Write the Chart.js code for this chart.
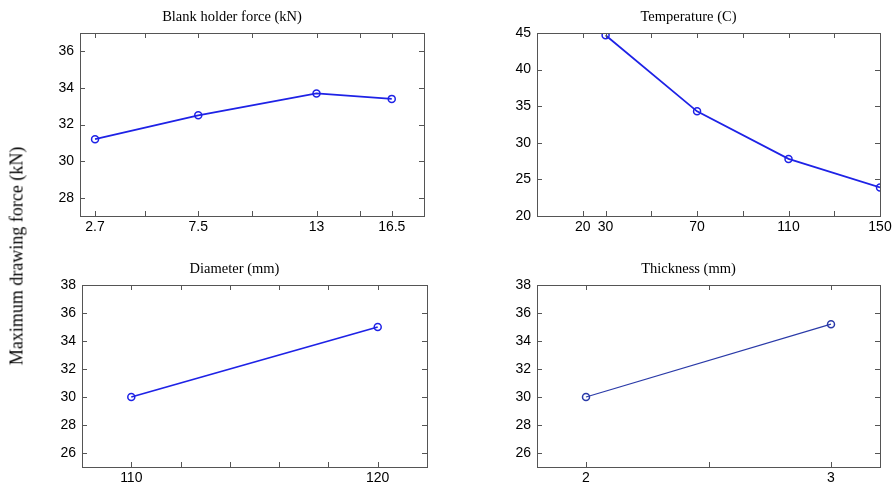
<!DOCTYPE html>
<html>
<head>
<meta charset="utf-8">
<script src="https://cdn.jsdelivr.net/npm/chart.js@4.4.0/dist/chart.umd.min.js"></script>
<style>
    body { margin: 0; background: #fff; }
    #page { position: relative; width: 896px; height: 488px; overflow: hidden; }
    canvas { position: absolute; }
    #ylabel {
        position: absolute; left: 17px; top: 256px;
        transform: translate(-50%, -50%) rotate(-90deg);
        font: 18px "Liberation Serif", serif; white-space: nowrap; color: #000;
    }
</style>
</head>
<body>
<div id="page">
    <canvas id="c1" style="left:0;top:0" width="448" height="244"></canvas>
    <canvas id="c2" style="left:448px;top:0" width="448" height="244"></canvas>
    <canvas id="c3" style="left:0;top:252px" width="448" height="236"></canvas>
    <canvas id="c4" style="left:448px;top:252px" width="448" height="236"></canvas>
    <div id="ylabel">Maximum drawing force (kN)</div>
</div>
<script>
// Blank holder force
const bhfValues = [2.7, 7.5, 13, 16.5];
const bhfForce = [31.2, 32.5, 33.7, 33.4];
const bhfTicks = [2.7, 5, 7.5, 10, 13, 15, 16.5];
const bhfYTicks = [28, 30, 32, 34, 36];

// Temperature
const tempValues = [30, 70, 110, 150];
const tempForce = [44.7, 34.3, 27.8, 23.9];
const tempTicks = [20, 30, 50, 70, 90, 110, 130, 150];
const tempTickLabels = [20, 30, 70, 110, 150];
const tempYTicks = [20, 25, 30, 35, 40, 45];

// Diameter
const diaValues = [110, 120];
const diaForce = [30, 35];
const diaTicks = [110, 112, 114, 116, 118, 120];
const diaTickLabels = [110, 120];

// Thickness
const thkValues = [2, 3];
const thkForce = [30, 35.2];
const thkTicks = [2, 2.5, 3];
const thkTickLabels = [2, 3];

const bottomYTicks = [26, 28, 30, 32, 34, 36, 38];

// inward tick marks on all four sides, matlab style
const innerTicks = {
    id: 'innerTicks',
    afterDraw(chart) {
        const { ctx, chartArea: a, scales } = chart;
        const len = 5;
        ctx.save();
        ctx.strokeStyle = '#555';
        ctx.lineWidth = 1;
        ctx.beginPath();
        scales.x.ticks.forEach(t => {
            const px = Math.round(scales.x.getPixelForValue(t.value)) + 0.5;
            ctx.moveTo(px, a.bottom); ctx.lineTo(px, a.bottom - len);
            ctx.moveTo(px, a.top); ctx.lineTo(px, a.top + len);
        });
        scales.y.ticks.forEach(t => {
            const py = Math.round(scales.y.getPixelForValue(t.value)) + 0.5;
            ctx.moveTo(a.left, py); ctx.lineTo(a.left + len, py);
            ctx.moveTo(a.right, py); ctx.lineTo(a.right - len, py);
        });
        ctx.stroke();
        ctx.strokeRect(Math.round(a.left) + 0.5, Math.round(a.top) + 0.5,
            Math.round(a.right - a.left), Math.round(a.bottom - a.top));
        ctx.restore();
    }
};

function makeChart(id, cfg) {
    const points = cfg.xs.map((x, i) => ({ x: x, y: cfg.ys[i] }));
    return new Chart(document.getElementById(id), {
        type: 'line',
        data: {
            datasets: [{
                data: points,
                borderColor: cfg.color,
                borderWidth: cfg.width,
                pointStyle: 'circle',
                pointRadius: 3.5,
                pointBorderWidth: 1.5,
                pointBackgroundColor: 'rgba(0,0,0,0)',
                pointBorderColor: cfg.color,
                tension: 0,
                fill: false
            }]
        },
        options: {
            responsive: false,
            animation: false,
            layout: { padding: cfg.padding },
            plugins: {
                legend: { display: false },
                tooltip: { enabled: false },
                title: {
                    display: true,
                    text: cfg.title,
                    color: '#000',
                    font: { family: 'Liberation Serif', size: 14.5, weight: 'normal' },
                    padding: { top: 8, bottom: 7.6 }
                }
            },
            scales: {
                x: {
                    type: 'linear',
                    min: cfg.xMin,
                    max: cfg.xMax,
                    grid: { display: false, drawTicks: false },
                    border: { display: false },
                    afterBuildTicks: s => { s.ticks = cfg.xTicks.map(v => ({ value: v })); },
                    afterFit: s => { s.height = cfg.xHeight; },
                    ticks: {
                        color: '#000',
                        padding: 3,
                        maxRotation: 0,
                        autoSkip: false,
                        font: { family: 'Liberation Sans', size: 14 },
                        callback: v => cfg.xLabels.includes(v) ? String(v) : ''
                    }
                },
                y: {
                    min: cfg.yMin,
                    max: cfg.yMax,
                    grid: { display: false, drawTicks: false },
                    border: { display: false },
                    afterBuildTicks: s => { s.ticks = cfg.yTicks.map(v => ({ value: v })); },
                    afterFit: s => { s.width = 40; },
                    ticks: {
                        color: '#000',
                        padding: 6,
                        font: { family: 'Liberation Sans', size: 14 },
                        callback: v => String(v)
                    }
                }
            }
        },
        plugins: [innerTicks]
    });
}

makeChart('c1', {
    title: 'Blank holder force (kN)', xs: bhfValues, ys: bhfForce,
    xMin: 2, xMax: 18, xTicks: bhfTicks, xLabels: bhfValues,
    yMin: 27, yMax: 37, yTicks: bhfYTicks,
    color: '#1e22e6', width: 1.8, xHeight: 28,
    padding: { left: 40, right: 24, top: 0, bottom: 0 }
});
makeChart('c2', {
    title: 'Temperature (C)', xs: tempValues, ys: tempForce,
    xMin: 0, xMax: 150, xTicks: tempTicks, xLabels: tempTickLabels,
    yMin: 20, yMax: 45, yTicks: tempYTicks,
    color: '#1e22e6', width: 1.8, xHeight: 28,
    padding: { left: 49, right: 16, top: 0, bottom: 0 }
});
makeChart('c3', {
    title: 'Diameter (mm)', xs: diaValues, ys: diaForce,
    xMin: 108, xMax: 122, xTicks: diaTicks, xLabels: diaTickLabels,
    yMin: 25, yMax: 38, yTicks: bottomYTicks,
    color: '#1e22e6', width: 1.8, xHeight: 21,
    padding: { left: 42, right: 21, top: 0, bottom: 0 }
});
makeChart('c4', {
    title: 'Thickness (mm)', xs: thkValues, ys: thkForce,
    xMin: 1.8, xMax: 3.2, xTicks: thkTicks, xLabels: thkTickLabels,
    yMin: 25, yMax: 38, yTicks: bottomYTicks,
    color: '#2a3aa8', width: 1.2, xHeight: 21,
    padding: { left: 49, right: 16, top: 0, bottom: 0 }
});
</script>
</body>
</html>
